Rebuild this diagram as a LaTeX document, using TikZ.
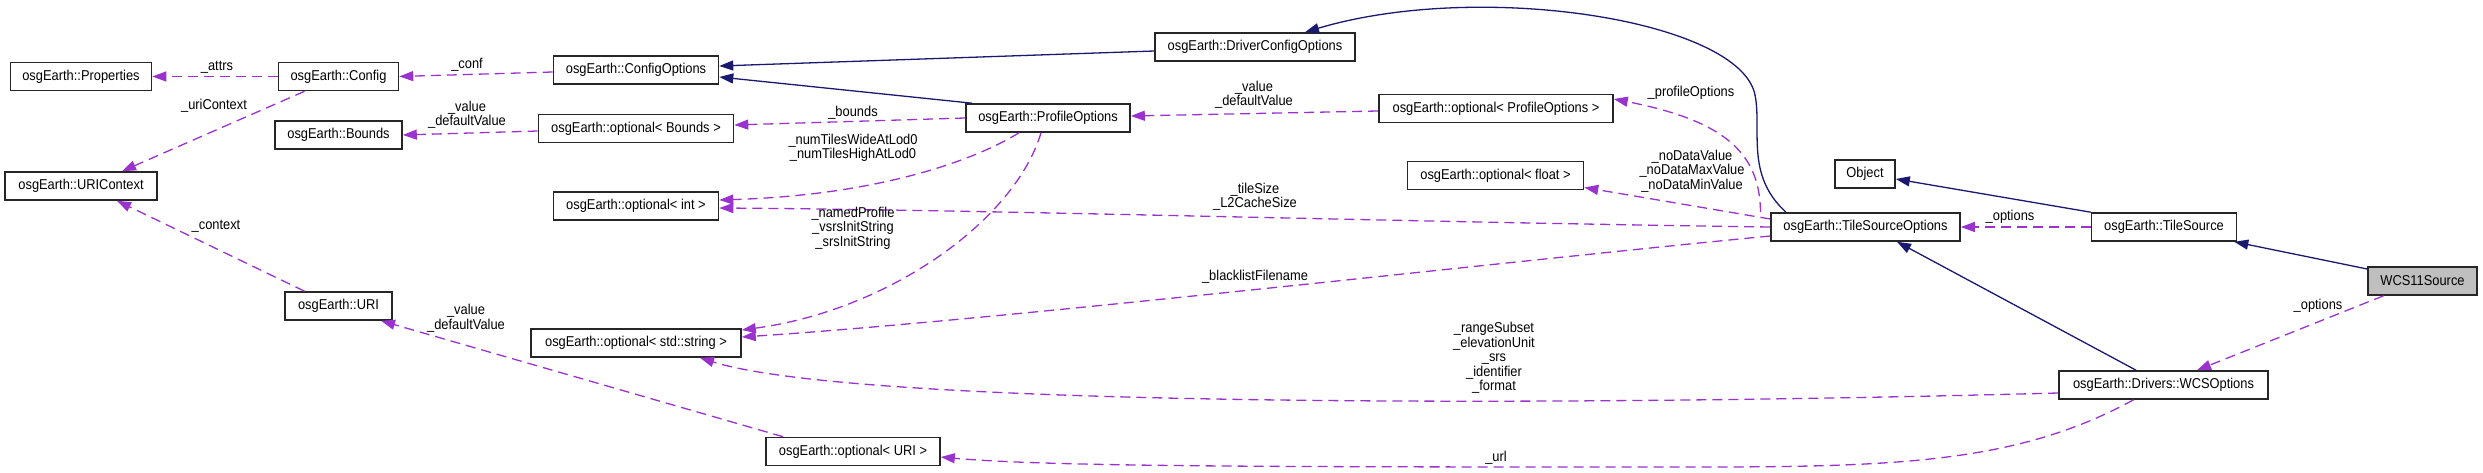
\documentclass[tikz,border=0pt]{standalone}
\usepackage{fontspec}
\setmainfont[FakeStretch=0.9]{Liberation Sans}
\usetikzlibrary{arrows.meta,calc}
\definecolor{navyc}{RGB}{25,25,112}
\definecolor{orchidc}{RGB}{154,50,205}
\begin{document}
\begin{tikzpicture}[x=1pt,y=-1pt,
  box/.style={draw=black!85, line width=1.6pt, minimum height=28pt, inner sep=0pt, font=\fontsize{14.3}{16}\selectfont, text=black},
  lbl/.style={font=\fontsize{14.3}{16}\selectfont, inner sep=0pt, align=center, text=black},
  uses/.style={draw=orchidc, line width=1.3pt, dash pattern=on 10pt off 6pt, -{Triangle[length=14pt,width=10pt]}},
  inh/.style={draw=navyc, line width=1.3pt, -{Triangle[length=14pt,width=10pt]}},
]
\useasboundingbox (0,0) rectangle (2483,473);
% nodes
\node[box, minimum width=141pt] (prop) at (81,76.5) {osgEarth::Properties};
\node[box, minimum width=120pt] (config) at (338.5,76.5) {osgEarth::Config};
\node[box, minimum width=165pt] (cfgopt) at (636,70) {osgEarth::ConfigOptions};
\node[box, minimum width=127pt] (bounds) at (338.5,135) {osgEarth::Bounds};
\node[box, minimum width=195pt] (optbounds) at (636,128.5) {osgEarth::optional< Bounds >};
\node[box, minimum width=152pt] (uricontext) at (81,186) {osgEarth::URIContext};
\node[box, minimum width=165pt] (optint) at (636,206) {osgEarth::optional< int >};
\node[box, minimum width=107pt] (uri) at (338.5,306) {osgEarth::URI};
\node[box, minimum width=210pt] (optstring) at (636,343) {osgEarth::optional< std::string >};
\node[box, minimum width=174pt] (opturi) at (853,451.5) {osgEarth::optional< URI >};
\node[box, minimum width=200pt] (dco) at (1255,47) {osgEarth::DriverConfigOptions};
\node[box, minimum width=164pt] (profopt) at (1048,118) {osgEarth::ProfileOptions};
\node[box, minimum width=234pt] (optprof) at (1496,108.5) {osgEarth::optional< ProfileOptions >};
\node[box, minimum width=176pt] (optfloat) at (1495.5,175.5) {osgEarth::optional< float >};
\node[box, minimum width=189pt] (tso) at (1865.5,227) {osgEarth::TileSourceOptions};
\node[box, minimum width=60pt] (object) at (1865,174) {Object};
\node[box, minimum width=145pt] (tilesource) at (2164,227) {osgEarth::TileSource};
\node[box, minimum width=109pt, fill=black!25] (wcs11) at (2422.5,281) {WCS11Source};
\node[box, minimum width=209pt] (wcsopt) at (2163.5,385) {osgEarth::Drivers::WCSOptions};

% inheritance edges
\draw[inh] ([xshift=-76pt]profopt.north) -- ([yshift=-7pt]cfgopt.east);
\draw[inh] ([yshift=-4pt]dco.west) -- ([yshift=4pt]cfgopt.east);
\draw[inh] ([xshift=-79.5pt]tso.north) .. controls (1745,175) and (1762,130) .. (1755,95)
   .. controls (1740,20) and (1480,-20) .. ([xshift=50pt]dco.north);
\draw[inh] (tilesource.north west) -- ([yshift=-5pt]object.east);
\draw[inh] ([yshift=12pt]wcs11.west) -- ([xshift=-3pt]tilesource.south east);
\draw[inh] ([xshift=-27.5pt]wcsopt.north) -- ([xshift=31.5pt]tso.south);

% usage edges
\draw[uses] (config.west) -- (prop.east);
\node[lbl] (l1) at (217,67) {\_attrs};
\draw[uses] ([yshift=-2pt]cfgopt.west) -- (config.east);
\node[lbl] (l2) at (467,65) {\_conf};
\draw[uses] ([xshift=-34pt]config.south) -- ([xshift=41pt]uricontext.north);
\node[lbl] (l3) at (214,106) {\_uriContext};
\draw[uses] ([xshift=-34pt]uri.north) -- ([xshift=36pt]uricontext.south);
\node[lbl] (l4) at (216,226) {\_context};
\draw[uses] ([yshift=-2.5pt]optbounds.west) -- (bounds.east);
\node[lbl] (l5) at (467,114.5) {\_value\\[-1.5pt]\_defaultValue};
\draw[uses] (profopt.west) -- ([yshift=3.5pt]optbounds.east);
\node[lbl] (l6) at (853,113) {\_bounds};
\draw[uses] ([xshift=-29pt]profopt.south) .. controls (975,160) and (880,195) .. ([yshift=6pt]optint.east);
\node[lbl] (l7) at (853,148) {\_numTilesWideAtLod0\\[-1.5pt]\_numTilesHighAtLod0};
\draw[uses] (tso.west) .. controls (1400,222) and (1000,210) .. ([yshift=-2pt]optint.east);
\node[lbl] (l8) at (1255,196.5) {\_tileSize\\[-1.5pt]\_L2CacheSize};
\draw[uses] ([xshift=-7pt]profopt.south) .. controls (1015,220) and (890,310) .. ([yshift=13pt]optstring.east);
\node[lbl] (l9) at (853,228) {\_namedProfile\\[-1.5pt]\_vsrsInitString\\[-1.5pt]\_srsInitString};
\draw[uses] ([yshift=-9pt]tso.west) .. controls (1500,262) and (1000,320) .. ([yshift=6pt]optstring.east);
\node[lbl] (l10) at (1255,277) {\_blacklistFilename};
\draw[uses] ([yshift=-8pt]wcsopt.west) .. controls (1500,408) and (850,405) .. ([xshift=64pt]optstring.south);
\node[lbl] (l11) at (1494,358) {\_rangeSubset\\[-1.5pt]\_elevationUnit\\[-1.5pt]\_srs\\[-1.5pt]\_identifier\\[-1.5pt]\_format};
\draw[uses] ([xshift=-30pt]wcsopt.south) .. controls (2020,462) and (1900,467) .. (1700,467)
   .. controls (1300,467) and (1050,467) .. ([yshift=-5.5pt]opturi.east);
\node[lbl] (l12) at (1496,458) {\_url};
\draw[uses] ([xshift=-70pt]opturi.north) -- ([xshift=42.5pt]uri.south);
\node[lbl] (l13) at (466,318) {\_value\\[-1.5pt]\_defaultValue};
\draw[uses] ([yshift=-2.5pt]optprof.west) -- ([yshift=2pt]profopt.east);
\node[lbl] (l14) at (1254,94.5) {\_value\\[-1.5pt]\_defaultValue};
\draw[uses] ([xshift=-105pt]tso.north) .. controls (1760,150) and (1720,120) .. ([yshift=9.5pt]optprof.east);
\node[lbl] (l15) at (1691,93) {\_profileOptions};
\draw[uses] ([yshift=8pt]tso.west) -- ([yshift=-12pt]optfloat.east);
\node[lbl] (l16) at (1692,171) {\_noDataValue\\[-1.5pt]\_noDataMaxValue\\[-1.5pt]\_noDataMinValue};
\draw[uses] (tilesource.west) -- (tso.east);
\node[lbl] (l17) at (2010,217) {\_options};
\draw[uses] ([xshift=-39pt]wcs11.south) -- ([xshift=33.5pt]wcsopt.north);
\node[lbl] (l18) at (2318,306) {\_options};
\end{tikzpicture}
\end{document}
